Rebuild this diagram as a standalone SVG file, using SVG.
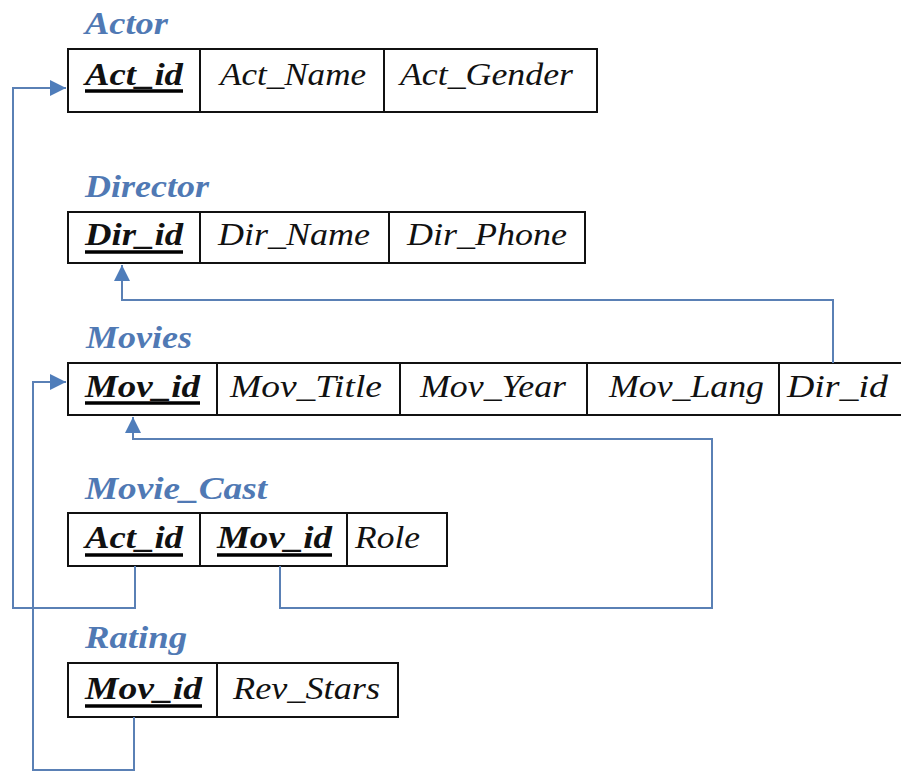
<svg xmlns="http://www.w3.org/2000/svg" width="901" height="773" viewBox="0 0 901 773">
<defs>
<style>
.lbl{font-family:"Liberation Serif","Times New Roman",serif;font-style:italic;font-weight:bold;font-size:32px;fill:#5079b4}
.t{font-family:"Liberation Serif","Times New Roman",serif;font-style:italic;font-size:32px;fill:#111}
.k{font-weight:bold}
.box{fill:#fff;stroke:#111;stroke-width:2}
.div{stroke:#111;stroke-width:2}
.ul{stroke:#000;stroke-width:3.5}
.con{fill:none;stroke:#5a80b5;stroke-width:2}
</style>
<marker id="ah" markerUnits="userSpaceOnUse" markerWidth="16" markerHeight="16" refX="16" refY="8" orient="auto">
<path d="M0,0 L16,8 L0,16 z" fill="#4f7dba"/>
</marker>
</defs>
<rect width="901" height="773" fill="#fff"/>

<g id="Actor">
<text class="lbl" x="85" y="34" textLength="83" lengthAdjust="spacingAndGlyphs">Actor</text>
<rect class="box" x="68" y="49" width="529" height="63"/>
<line class="div" x1="200" y1="49" x2="200" y2="112"/>
<line class="div" x1="384" y1="49" x2="384" y2="112"/>
<text class="t k" x="85" y="85" textLength="98" lengthAdjust="spacingAndGlyphs">Act_id</text>
<line class="ul" x1="85" y1="91" x2="183" y2="91"/>
<text class="t" x="220" y="85" textLength="146" lengthAdjust="spacingAndGlyphs">Act_Name</text>
<text class="t" x="400" y="85" textLength="173" lengthAdjust="spacingAndGlyphs">Act_Gender</text>
</g>

<g id="Director">
<text class="lbl" x="85" y="197" textLength="124" lengthAdjust="spacingAndGlyphs">Director</text>
<rect class="box" x="68" y="212" width="517" height="51"/>
<line class="div" x1="200" y1="212" x2="200" y2="263"/>
<line class="div" x1="389" y1="212" x2="389" y2="263"/>
<text class="t k" x="85" y="245" textLength="98" lengthAdjust="spacingAndGlyphs">Dir_id</text>
<line class="ul" x1="85" y1="252" x2="183" y2="252"/>
<text class="t" x="218" y="245" textLength="152" lengthAdjust="spacingAndGlyphs">Dir_Name</text>
<text class="t" x="407" y="245" textLength="160" lengthAdjust="spacingAndGlyphs">Dir_Phone</text>
</g>

<g id="Movies">
<text class="lbl" x="86" y="348" textLength="106" lengthAdjust="spacingAndGlyphs">Movies</text>
<rect class="box" x="68" y="363" width="850" height="52"/>
<line class="div" x1="217" y1="363" x2="217" y2="415"/>
<line class="div" x1="400" y1="363" x2="400" y2="415"/>
<line class="div" x1="587" y1="363" x2="587" y2="415"/>
<line class="div" x1="779" y1="363" x2="779" y2="415"/>
<text class="t k" x="85" y="397" textLength="115" lengthAdjust="spacingAndGlyphs">Mov_id</text>
<line class="ul" x1="85" y1="403" x2="200" y2="403"/>
<text class="t" x="230" y="397" textLength="152" lengthAdjust="spacingAndGlyphs">Mov_Title</text>
<text class="t" x="420" y="397" textLength="146" lengthAdjust="spacingAndGlyphs">Mov_Year</text>
<text class="t" x="609" y="397" textLength="155" lengthAdjust="spacingAndGlyphs">Mov_Lang</text>
<text class="t" x="787" y="397" textLength="101" lengthAdjust="spacingAndGlyphs">Dir_id</text>
</g>

<g id="Movie_Cast">
<text class="lbl" x="85" y="499" textLength="182" lengthAdjust="spacingAndGlyphs">Movie_Cast</text>
<rect class="box" x="68" y="513" width="379" height="53"/>
<line class="div" x1="200" y1="513" x2="200" y2="566"/>
<line class="div" x1="347" y1="513" x2="347" y2="566"/>
<text class="t k" x="85" y="548" textLength="98" lengthAdjust="spacingAndGlyphs">Act_id</text>
<line class="ul" x1="85" y1="555" x2="183" y2="555"/>
<text class="t k" x="217" y="548" textLength="115" lengthAdjust="spacingAndGlyphs">Mov_id</text>
<line class="ul" x1="217" y1="555" x2="332" y2="555"/>
<text class="t" x="355" y="548" textLength="65" lengthAdjust="spacingAndGlyphs">Role</text>
</g>

<g id="Rating">
<text class="lbl" x="85" y="648" textLength="102" lengthAdjust="spacingAndGlyphs">Rating</text>
<rect class="box" x="68" y="663" width="330" height="54"/>
<line class="div" x1="217" y1="663" x2="217" y2="717"/>
<text class="t k" x="85" y="699" textLength="117" lengthAdjust="spacingAndGlyphs">Mov_id</text>
<line class="ul" x1="85" y1="706" x2="202" y2="706"/>
<text class="t" x="233" y="699" textLength="147" lengthAdjust="spacingAndGlyphs">Rev_Stars</text>
</g>

<g id="connectors">
<path class="con" d="M135,566 V608 H13 V88 H66" marker-end="url(#ah)"/>
<path class="con" d="M833,363 V300 H122 V265" marker-end="url(#ah)"/>
<path class="con" d="M280,566 V608 H712 V439 H133 V417" marker-end="url(#ah)"/>
<path class="con" d="M134,717 V770 H33 V382 H66" marker-end="url(#ah)"/>
</g>
</svg>
